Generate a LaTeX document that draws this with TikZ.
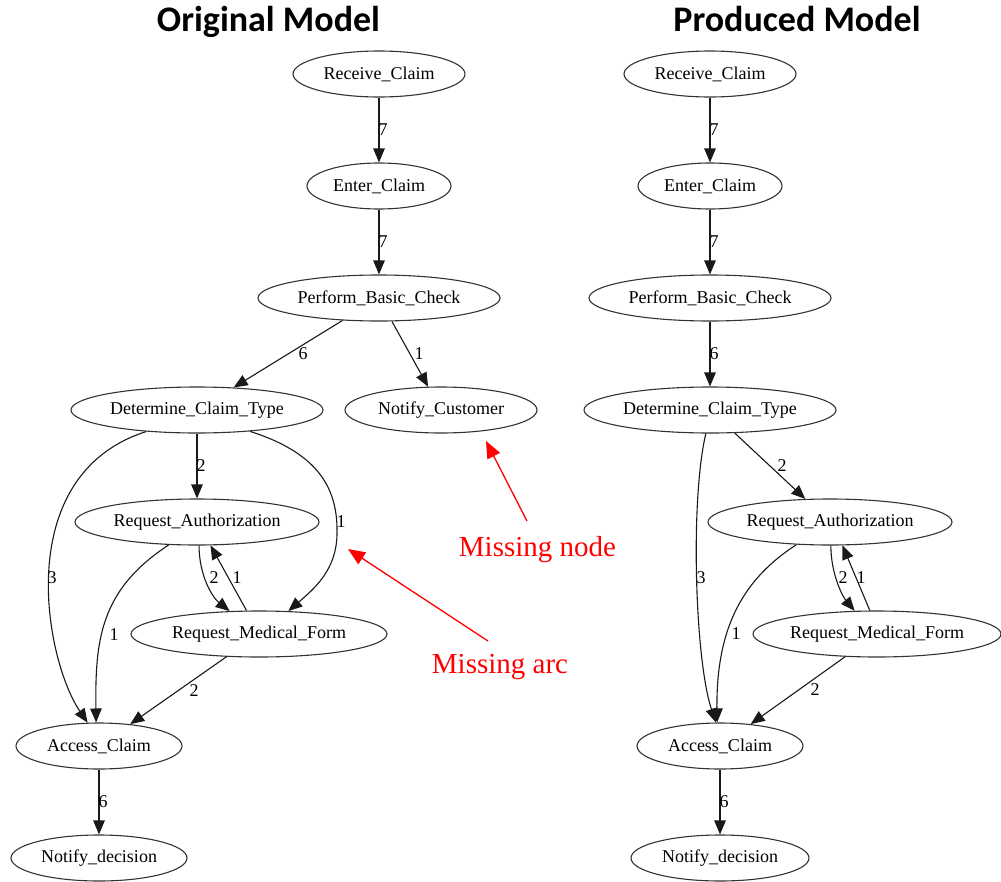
\documentclass[tikz,border=0pt]{standalone}
\usepackage{fontspec}
\setmainfont{Liberation Serif}
\newfontfamily\titlefont{Carlito}
\usetikzlibrary{shapes.geometric,arrows.meta}
\begin{document}
\begin{tikzpicture}[x=1pt,y=-1pt,
  st/.style={draw=black!80, line width=1.1pt, ellipse, minimum height=46pt, inner sep=0pt, font=\fontsize{18}{20}\selectfont},
  edge/.style={draw=black!90, line width=1.1pt, -{Triangle[length=14pt,width=11.5pt]}},
  lbl/.style={font=\fontsize{18}{20}\selectfont, inner sep=0pt},
  ttl/.style={font={\titlefont\bfseries\fontsize{36}{40}\selectfont}, anchor=base, inner sep=0pt},
  note/.style={font=\fontsize{29}{32}\selectfont, text=red, anchor=base, inner sep=0pt},
  notearrow/.style={draw=red, line width=1.3pt, -{Triangle[length=17pt,width=14pt]}}]
\useasboundingbox (0,0) rectangle (1001,881);

% titles
\node[ttl] (t1) at (268.5,31) {Original Model};
\node[ttl] (t2) at (797,31) {Produced Model};

% left graph nodes
\node[st, minimum width=172pt] (rc1) at (379,74) {\makebox[0pt]{Receive\_Claim}};
\node[st, minimum width=144pt] (ec1) at (379,186) {\makebox[0pt]{Enter\_Claim}};
\node[st, minimum width=242pt] (pbc1) at (379,298) {\makebox[0pt]{Perform\_Basic\_Check}};
\node[st, minimum width=252pt] (dct1) at (197,410) {\makebox[0pt]{Determine\_Claim\_Type}};
\node[st, minimum width=192pt] (nc1) at (441,410) {\makebox[0pt]{Notify\_Customer}};
\node[st, minimum width=244pt] (ra1) at (197,522) {\makebox[0pt]{Request\_Authorization}};
\node[st, minimum width=256pt] (rmf1) at (259,634) {\makebox[0pt]{Request\_Medical\_Form}};
\node[st, minimum width=166pt] (ac1) at (99,746) {\makebox[0pt]{Access\_Claim}};
\node[st, minimum width=176pt] (nd1) at (99,858) {\makebox[0pt]{Notify\_decision}};

% left graph edges
\draw[edge] (rc1) -- (ec1);
\draw[edge] (ec1) -- (pbc1);
\draw[edge] (pbc1) -- (dct1);
\draw[edge] (pbc1) -- (nc1);
\draw[edge] (dct1) -- (ra1);
\draw[edge] (dct1.203) .. controls (10,475) and (45,660) .. (ac1.116);
\draw[edge] (dct1.338) .. controls (325,455) and (338,495) .. (337,535) .. controls (336,570) and (315,588) .. (rmf1.38);
\draw[edge] (ra1.219) .. controls (100,590) and (95,640) .. (ac1.97);
\draw[edge] (ra1.275) .. controls (199,575) and (212,597) .. (rmf1.142);
\draw[edge] (rmf1.118) -- (ra1.300);
\draw[edge] (rmf1) -- (ac1);
\draw[edge] (ac1) -- (nd1);

% left edge labels
\node[lbl] (l1) at (383,130) {7};
\node[lbl] (l2) at (383,242) {7};
\node[lbl] (l3) at (303,354) {6};
\node[lbl] (l4) at (419,354) {1};
\node[lbl] (l5) at (201,466) {2};
\node[lbl] (l6) at (52,578) {3};
\node[lbl] (l7) at (341,522) {1};
\node[lbl] (l8) at (114,635) {1};
\node[lbl] (l9) at (214,578) {2};
\node[lbl] (l10) at (237,578) {1};
\node[lbl] (l11) at (194,691) {2};
\node[lbl] (l12) at (103,802) {6};

% right graph nodes
\node[st, minimum width=172pt] (rc2) at (710,74) {\makebox[0pt]{Receive\_Claim}};
\node[st, minimum width=144pt] (ec2) at (710,186) {\makebox[0pt]{Enter\_Claim}};
\node[st, minimum width=242pt] (pbc2) at (710,298) {\makebox[0pt]{Perform\_Basic\_Check}};
\node[st, minimum width=252pt] (dct2) at (710,410) {\makebox[0pt]{Determine\_Claim\_Type}};
\node[st, minimum width=244pt] (ra2) at (830,522) {\makebox[0pt]{Request\_Authorization}};
\node[st, minimum width=248pt] (rmf2) at (877,634) {\makebox[0pt]{Request\_Medical\_Form}};
\node[st, minimum width=166pt] (ac2) at (720,746) {\makebox[0pt]{Access\_Claim}};
\node[st, minimum width=178pt] (nd2) at (720,858) {\makebox[0pt]{Notify\_decision}};

% right graph edges
\draw[edge] (rc2) -- (ec2);
\draw[edge] (ec2) -- (pbc2);
\draw[edge] (pbc2) -- (dct2);
\draw[edge] (dct2) -- (ra2);
\draw[edge] (dct2.260) .. controls (690,500) and (695,660) .. (ac2.100);
\draw[edge] (ra2.214) .. controls (745,578) and (716,625) .. (ac2.97);
\draw[edge] (ra2.272) .. controls (831,575) and (843,597) .. (rmf2.134);
\draw[edge] (rmf2.107) -- (ra2.298);
\draw[edge] (rmf2) -- (ac2);
\draw[edge] (ac2) -- (nd2);

% right edge labels
\node[lbl] (r1) at (714,130) {7};
\node[lbl] (r2) at (714,242) {7};
\node[lbl] (r3) at (714,354) {6};
\node[lbl] (r4) at (782,466) {2};
\node[lbl] (r5) at (701,578) {3};
\node[lbl] (r6) at (736,634) {1};
\node[lbl] (r7) at (843,578) {2};
\node[lbl] (r8) at (861,578) {1};
\node[lbl] (r9) at (815,690) {2};
\node[lbl] (r10) at (724,802) {6};

% annotations
\node[note] (mn) at (537.5,556) {Missing node};
\node[note] (ma) at (500,673) {Missing arc};
\coordinate (mntail) at (527,521);
\coordinate (mnhead) at (486,441);
\coordinate (matail) at (488,641);
\coordinate (mahead) at (348,549);
\draw[notearrow] (mntail) -- (mnhead);
\draw[notearrow] (matail) -- (mahead);
\end{tikzpicture}
\end{document}
